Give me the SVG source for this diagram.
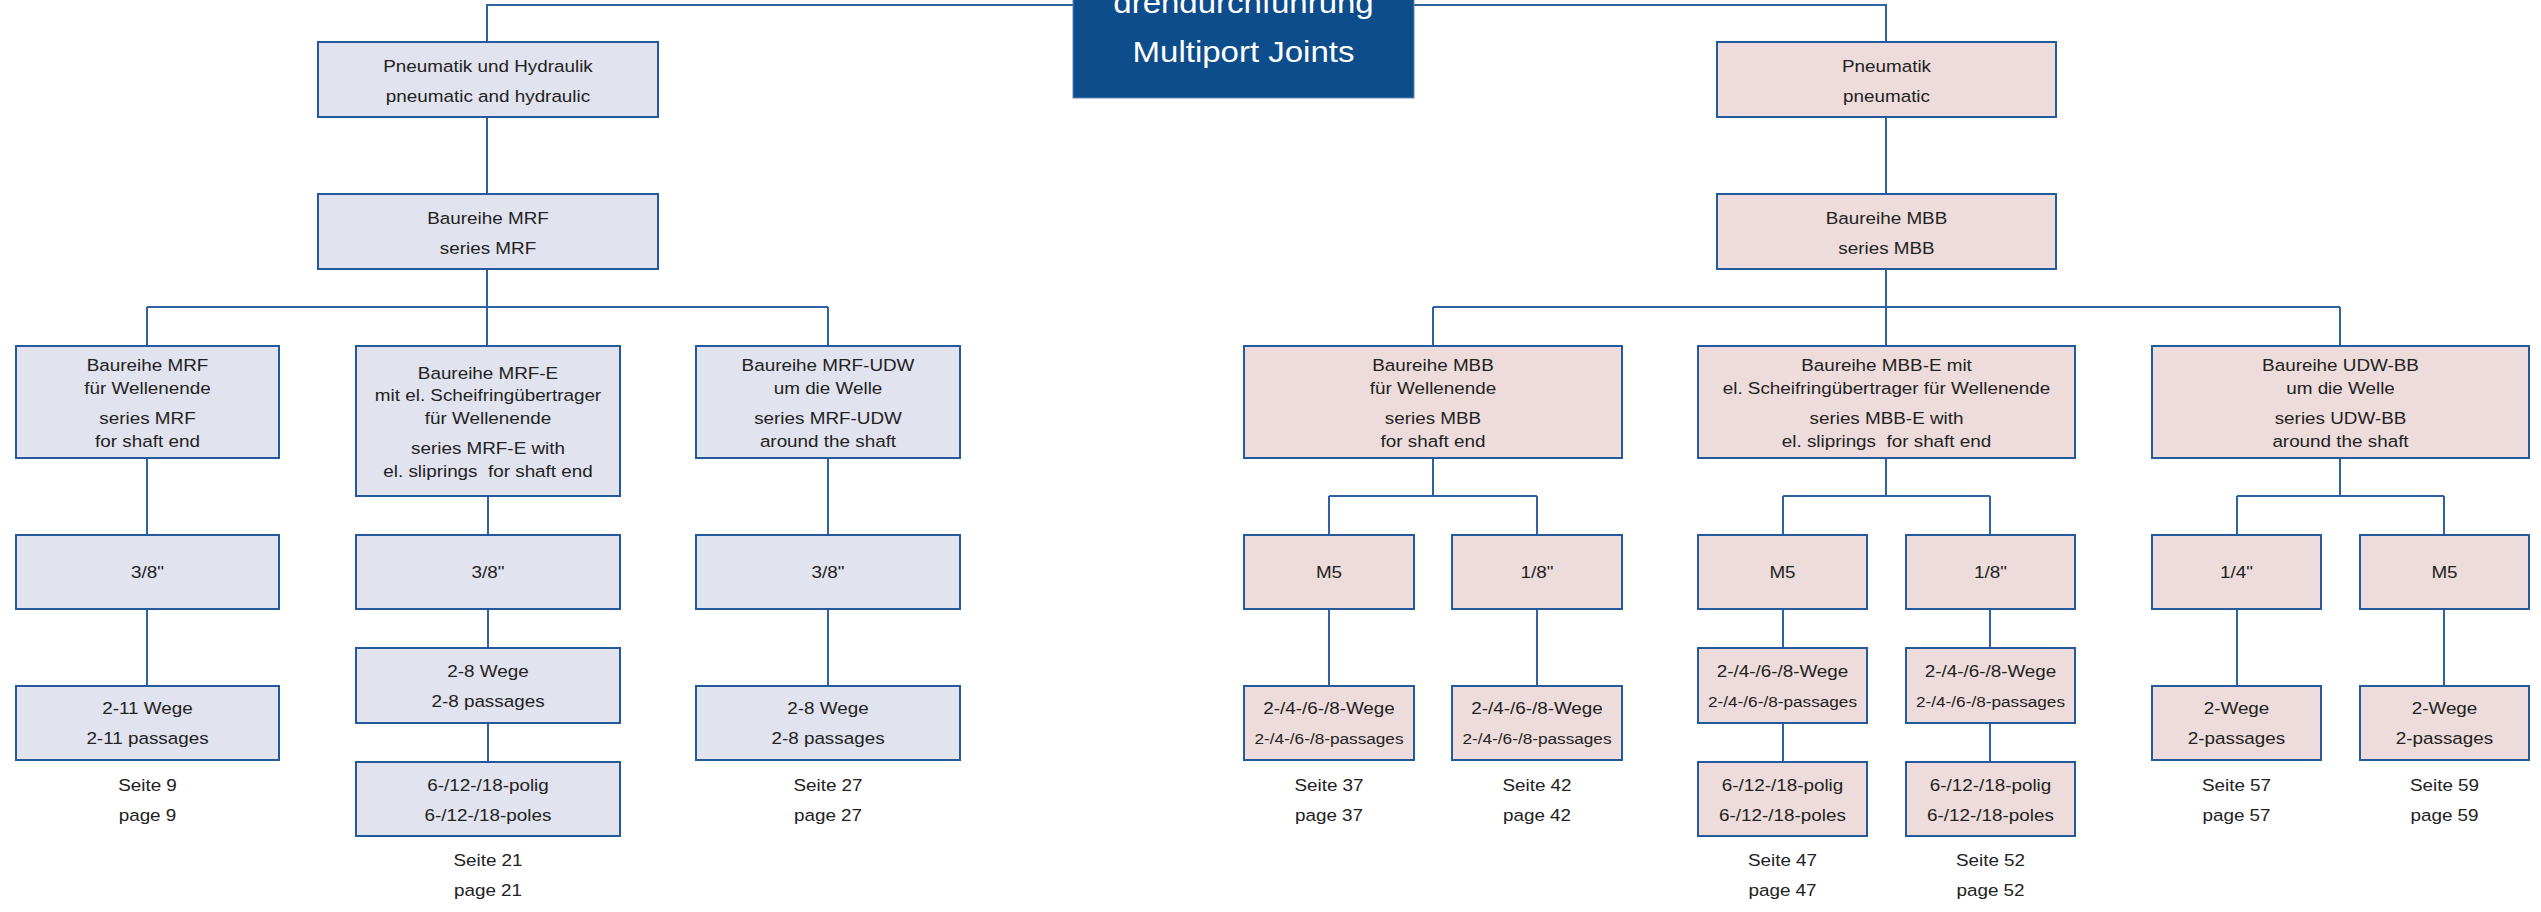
<svg xmlns="http://www.w3.org/2000/svg" width="2541" height="912" viewBox="0 0 2541 912">
<style>
.bl{fill:#e1e3ee;stroke:#245a9c;stroke-width:2}
.br{fill:#eedcdc;stroke:#245a9c;stroke-width:2}
.hd{fill:#0e4d8b;stroke:#5a86b8;stroke-width:1}
.c{fill:none;stroke:#2f62a2;stroke-width:2}
text{font-family:"Liberation Sans",Arial,Helvetica,sans-serif;font-size:17px;fill:#222;text-anchor:middle}
text.s{font-size:15.5px}
text.h{font-size:30px;fill:#fff}
</style>
<rect width="2541" height="912" fill="#fff"/>
<g id="connectors">
<path class="c" d="M487,42V5H1886V42"/>
<path class="c" d="M487,117V194M487,269V307M147,307H828M147,307V346M487,307V346M828,307V346"/>
<path class="c" d="M147,458V535M488,496V535M828,458V535"/>
<path class="c" d="M147,609V686M488,609V648M488,723V762M828,609V686"/>
<path class="c" d="M1886,117V194M1886,269V307M1433,307H2340M1433,307V346M1886,307V346M2340,307V346"/>
<path class="c" d="M1433,458V496M1329,496H1537M1329,496V535M1537,496V535"/>
<path class="c" d="M1886,458V496M1783,496H1990M1783,496V535M1990,496V535"/>
<path class="c" d="M2340,458V496M2237,496H2444M2237,496V535M2444,496V535"/>
<path class="c" d="M1329,609V686M1537,609V686M1783,609V648M1783,723V762M1990,609V648M1990,723V762M2237,609V686M2444,609V686"/>
</g>
<g id="header">
<rect class="hd" x="1073" y="-80" width="341" height="178"/>
<g transform="translate(1243.5 0) scale(1.1 1)"><text class="h" x="0" y="13">drehdurchführung</text><text class="h" x="0" y="62">Multiport Joints</text></g>
</g>
<g id="n-pneuhyd"><rect class="bl" x="318" y="42" width="340" height="75"/>
<g transform="translate(488 0) scale(1.11 1)"><text x="0" y="72">Pneumatik und Hydraulik</text><text x="0" y="102">pneumatic and hydraulic</text></g></g>
<g id="n-mrf"><rect class="bl" x="318" y="194" width="340" height="75"/>
<g transform="translate(488 0) scale(1.11 1)"><text x="0" y="224">Baureihe MRF</text><text x="0" y="254">series MRF</text></g></g>
<g id="n-mrf-we"><rect class="bl" x="16" y="346" width="263" height="112"/>
<g transform="translate(147.5 0) scale(1.11 1)"><text x="0" y="371">Baureihe MRF</text><text x="0" y="394">für Wellenende</text><text x="0" y="424">series MRF</text><text x="0" y="447">for shaft end</text></g></g>
<g id="n-mrf-e"><rect class="bl" x="356" y="346" width="264" height="150"/>
<g transform="translate(488 0) scale(1.11 1)"><text x="0" y="379">Baureihe MRF-E</text><text x="0" y="401">mit el. Scheifringübertrager</text><text x="0" y="424">für Wellenende</text><text x="0" y="454">series MRF-E with</text><text x="0" y="477" xml:space="preserve" style="white-space:pre">el. sliprings  for shaft end</text></g></g>
<g id="n-mrf-udw"><rect class="bl" x="696" y="346" width="264" height="112"/>
<g transform="translate(828 0) scale(1.11 1)"><text x="0" y="371">Baureihe MRF-UDW</text><text x="0" y="394">um die Welle</text><text x="0" y="424">series MRF-UDW</text><text x="0" y="447">around the shaft</text></g></g>
<g id="n-l4a"><rect class="bl" x="16" y="535" width="263" height="74"/>
<g transform="translate(147.5 0) scale(1.11 1)"><text x="0" y="578">3/8"</text></g></g>
<g id="n-l4b"><rect class="bl" x="356" y="535" width="264" height="74"/>
<g transform="translate(488 0) scale(1.11 1)"><text x="0" y="578">3/8"</text></g></g>
<g id="n-l4c"><rect class="bl" x="696" y="535" width="264" height="74"/>
<g transform="translate(828 0) scale(1.11 1)"><text x="0" y="578">3/8"</text></g></g>
<g id="n-l5a"><rect class="bl" x="16" y="686" width="263" height="74"/>
<g transform="translate(147.5 0) scale(1.11 1)"><text x="0" y="714">2-11 Wege</text><text x="0" y="744">2-11 passages</text><text x="0" y="791">Seite 9</text><text x="0" y="821">page 9</text></g></g>
<g id="n-l5b"><rect class="bl" x="356" y="648" width="264" height="75"/>
<g transform="translate(488 0) scale(1.11 1)"><text x="0" y="677">2-8 Wege</text><text x="0" y="707">2-8 passages</text></g></g>
<g id="n-l6b"><rect class="bl" x="356" y="762" width="264" height="74"/>
<g transform="translate(488 0) scale(1.11 1)"><text x="0" y="791">6-/12-/18-polig</text><text x="0" y="821">6-/12-/18-poles</text><text x="0" y="866">Seite 21</text><text x="0" y="896">page 21</text></g></g>
<g id="n-l5c"><rect class="bl" x="696" y="686" width="264" height="74"/>
<g transform="translate(828 0) scale(1.11 1)"><text x="0" y="714">2-8 Wege</text><text x="0" y="744">2-8 passages</text><text x="0" y="791">Seite 27</text><text x="0" y="821">page 27</text></g></g>
<g id="n-pneu"><rect class="br" x="1717" y="42" width="339" height="75"/>
<g transform="translate(1886.5 0) scale(1.11 1)"><text x="0" y="72">Pneumatik</text><text x="0" y="102">pneumatic</text></g></g>
<g id="n-mbb"><rect class="br" x="1717" y="194" width="339" height="75"/>
<g transform="translate(1886.5 0) scale(1.11 1)"><text x="0" y="224">Baureihe MBB</text><text x="0" y="254">series MBB</text></g></g>
<g id="n-mbb-we"><rect class="br" x="1244" y="346" width="378" height="112"/>
<g transform="translate(1433 0) scale(1.11 1)"><text x="0" y="371">Baureihe MBB</text><text x="0" y="394">für Wellenende</text><text x="0" y="424">series MBB</text><text x="0" y="447">for shaft end</text></g></g>
<g id="n-mbb-e"><rect class="br" x="1698" y="346" width="377" height="112"/>
<g transform="translate(1886.5 0) scale(1.11 1)"><text x="0" y="371">Baureihe MBB-E mit</text><text x="0" y="394">el. Scheifringübertrager für Wellenende</text><text x="0" y="424">series MBB-E with</text><text x="0" y="447" xml:space="preserve" style="white-space:pre">el. sliprings  for shaft end</text></g></g>
<g id="n-udw-bb"><rect class="br" x="2152" y="346" width="377" height="112"/>
<g transform="translate(2340.5 0) scale(1.11 1)"><text x="0" y="371">Baureihe UDW-BB</text><text x="0" y="394">um die Welle</text><text x="0" y="424">series UDW-BB</text><text x="0" y="447">around the shaft</text></g></g>
<g id="n-r4a"><rect class="br" x="1244" y="535" width="170" height="74"/>
<g transform="translate(1329 0) scale(1.11 1)"><text x="0" y="578">M5</text></g></g>
<g id="n-r4b"><rect class="br" x="1452" y="535" width="170" height="74"/>
<g transform="translate(1537 0) scale(1.11 1)"><text x="0" y="578">1/8"</text></g></g>
<g id="n-r4c"><rect class="br" x="1698" y="535" width="169" height="74"/>
<g transform="translate(1782.5 0) scale(1.11 1)"><text x="0" y="578">M5</text></g></g>
<g id="n-r4d"><rect class="br" x="1906" y="535" width="169" height="74"/>
<g transform="translate(1990.5 0) scale(1.11 1)"><text x="0" y="578">1/8"</text></g></g>
<g id="n-r4e"><rect class="br" x="2152" y="535" width="169" height="74"/>
<g transform="translate(2236.5 0) scale(1.11 1)"><text x="0" y="578">1/4"</text></g></g>
<g id="n-r4f"><rect class="br" x="2360" y="535" width="169" height="74"/>
<g transform="translate(2444.5 0) scale(1.11 1)"><text x="0" y="578">M5</text></g></g>
<g id="n-r5a"><rect class="br" x="1244" y="686" width="170" height="74"/>
<g transform="translate(1329 0) scale(1.11 1)"><text x="0" y="714">2-/4-/6-/8-Wege</text><text class="s" x="0" y="744">2-/4-/6-/8-passages</text><text x="0" y="791">Seite 37</text><text x="0" y="821">page 37</text></g></g>
<g id="n-r5b"><rect class="br" x="1452" y="686" width="170" height="74"/>
<g transform="translate(1537 0) scale(1.11 1)"><text x="0" y="714">2-/4-/6-/8-Wege</text><text class="s" x="0" y="744">2-/4-/6-/8-passages</text><text x="0" y="791">Seite 42</text><text x="0" y="821">page 42</text></g></g>
<g id="n-r5c"><rect class="br" x="1698" y="648" width="169" height="75"/>
<g transform="translate(1782.5 0) scale(1.11 1)"><text x="0" y="677">2-/4-/6-/8-Wege</text><text class="s" x="0" y="707">2-/4-/6-/8-passages</text></g></g>
<g id="n-r6c"><rect class="br" x="1698" y="762" width="169" height="74"/>
<g transform="translate(1782.5 0) scale(1.11 1)"><text x="0" y="791">6-/12-/18-polig</text><text x="0" y="821">6-/12-/18-poles</text><text x="0" y="866">Seite 47</text><text x="0" y="896">page 47</text></g></g>
<g id="n-r5d"><rect class="br" x="1906" y="648" width="169" height="75"/>
<g transform="translate(1990.5 0) scale(1.11 1)"><text x="0" y="677">2-/4-/6-/8-Wege</text><text class="s" x="0" y="707">2-/4-/6-/8-passages</text></g></g>
<g id="n-r6d"><rect class="br" x="1906" y="762" width="169" height="74"/>
<g transform="translate(1990.5 0) scale(1.11 1)"><text x="0" y="791">6-/12-/18-polig</text><text x="0" y="821">6-/12-/18-poles</text><text x="0" y="866">Seite 52</text><text x="0" y="896">page 52</text></g></g>
<g id="n-r5e"><rect class="br" x="2152" y="686" width="169" height="74"/>
<g transform="translate(2236.5 0) scale(1.11 1)"><text x="0" y="714">2-Wege</text><text x="0" y="744">2-passages</text><text x="0" y="791">Seite 57</text><text x="0" y="821">page 57</text></g></g>
<g id="n-r5f"><rect class="br" x="2360" y="686" width="169" height="74"/>
<g transform="translate(2444.5 0) scale(1.11 1)"><text x="0" y="714">2-Wege</text><text x="0" y="744">2-passages</text><text x="0" y="791">Seite 59</text><text x="0" y="821">page 59</text></g></g>
</svg>
